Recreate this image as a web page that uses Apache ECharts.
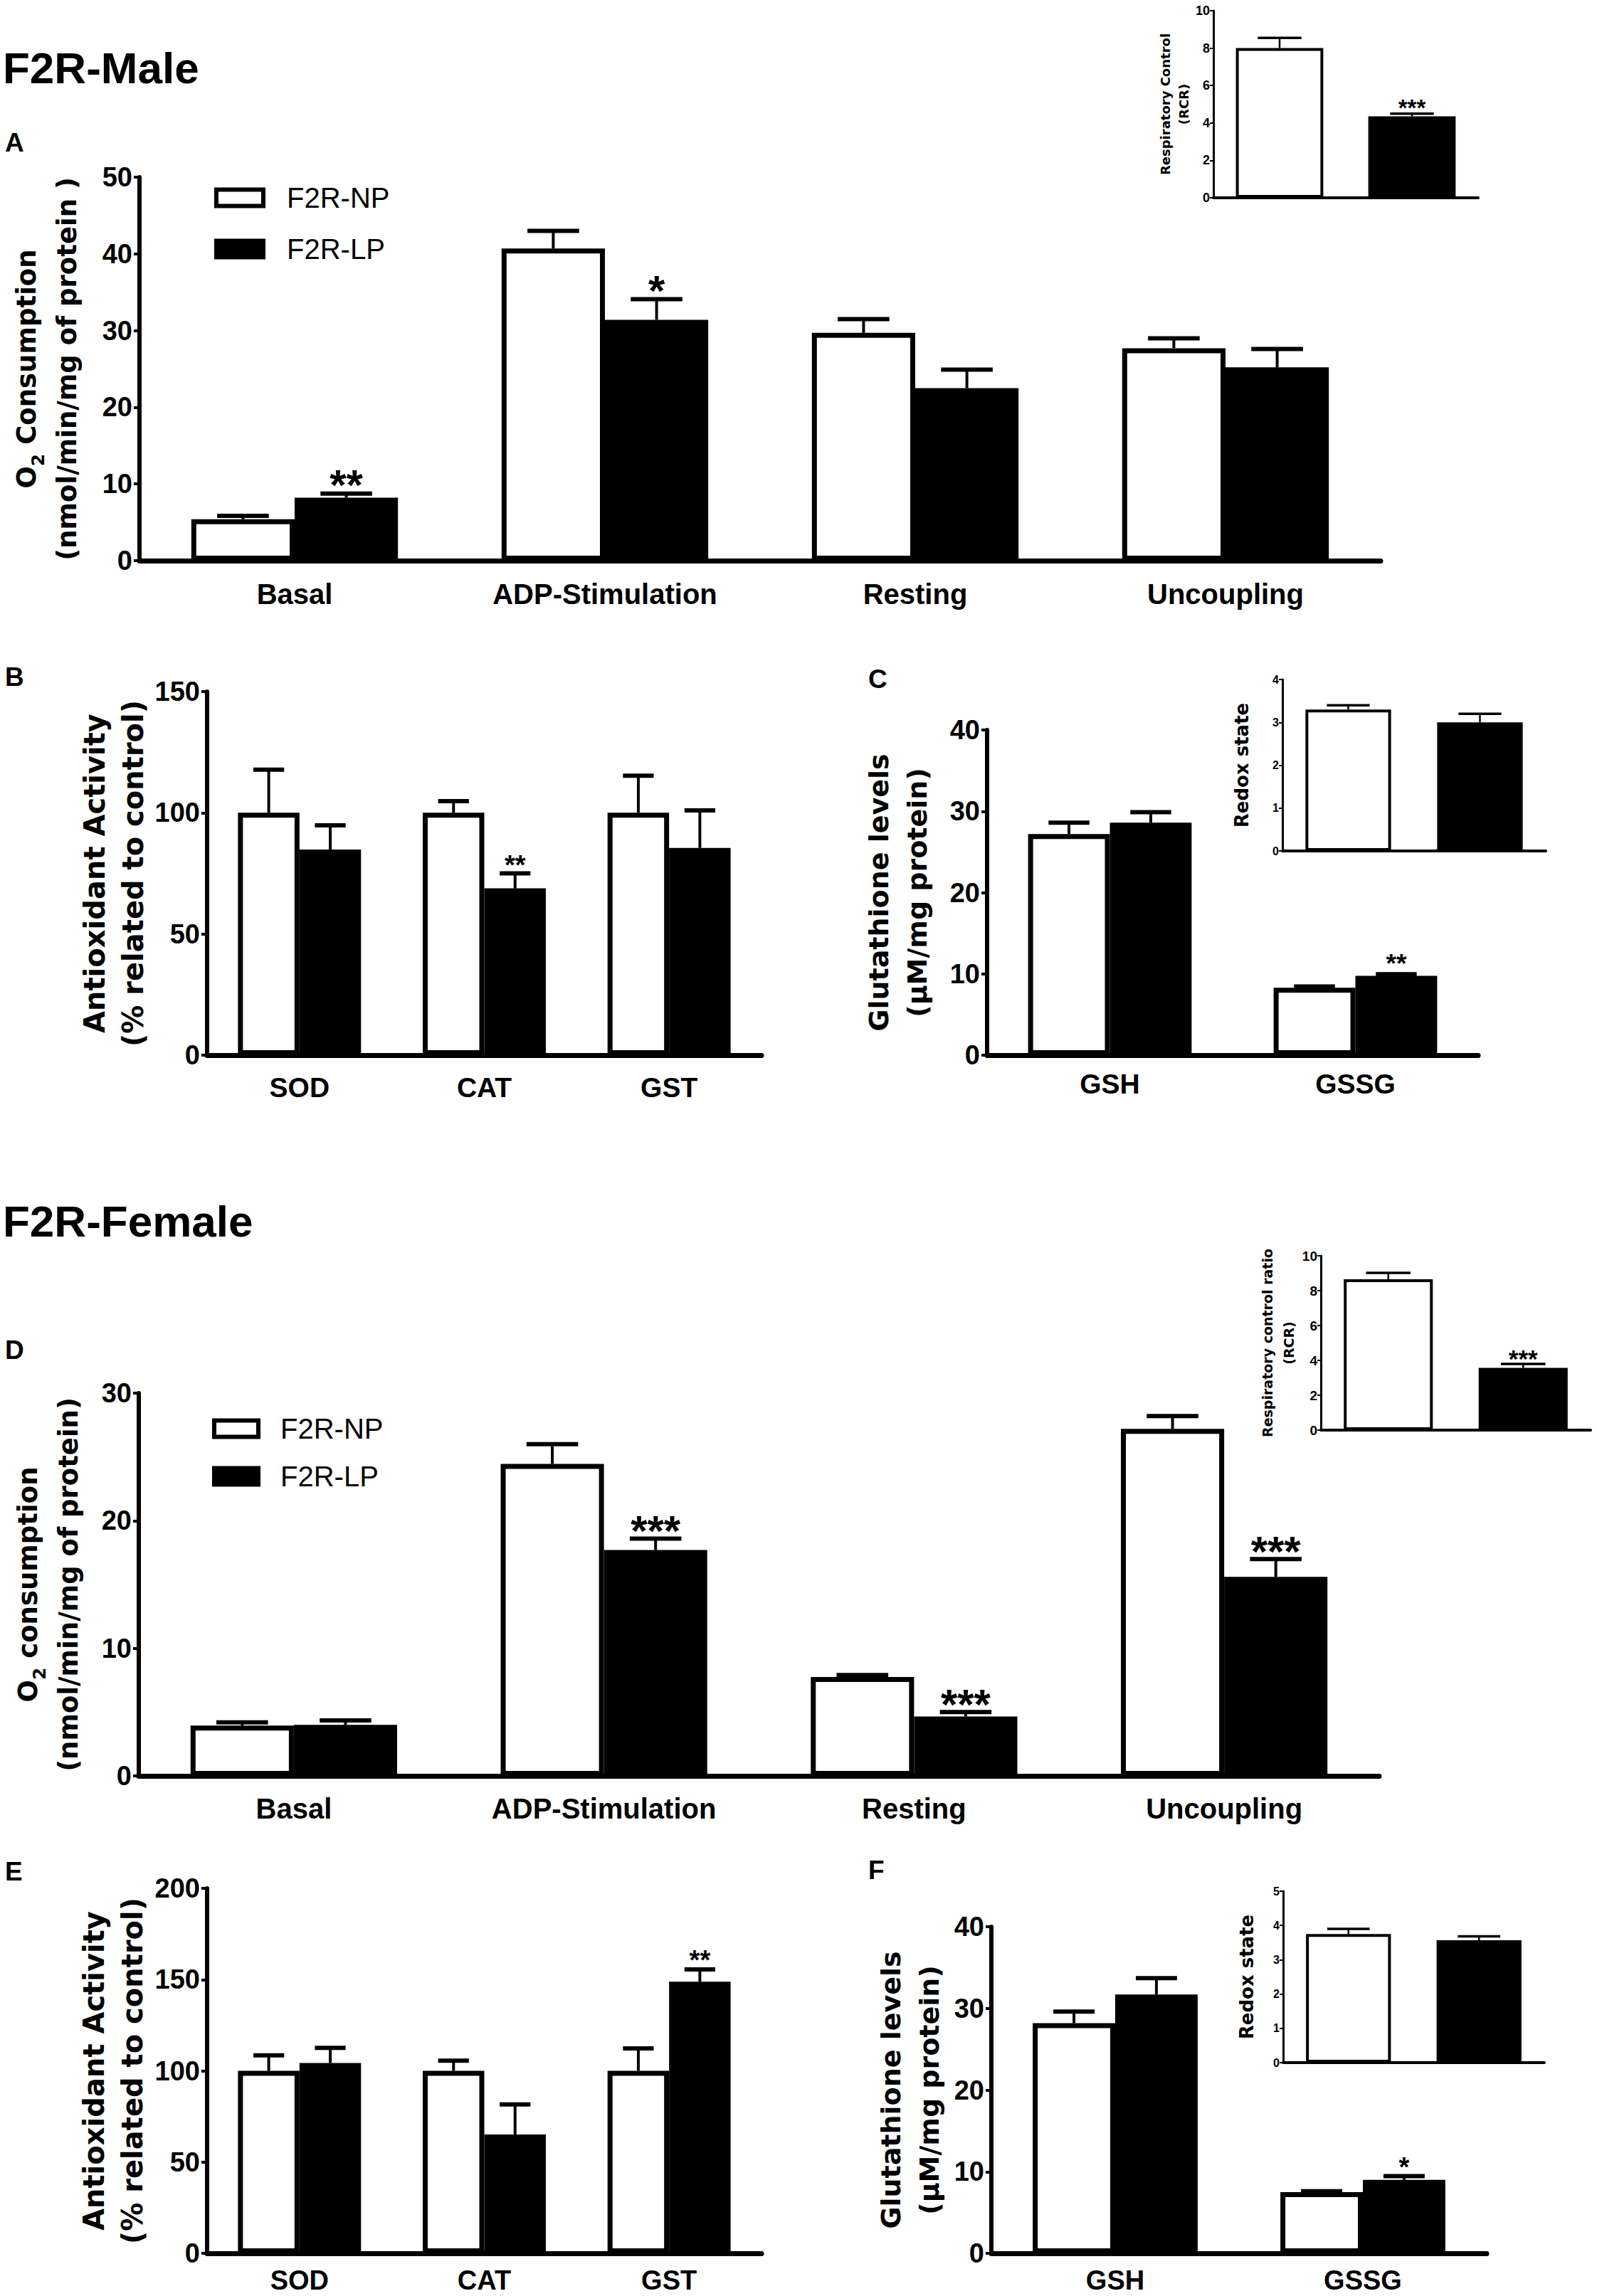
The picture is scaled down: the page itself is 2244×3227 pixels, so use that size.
<!DOCTYPE html>
<html>
<head>
<meta charset="utf-8">
<script src="https://cdn.jsdelivr.net/npm/echarts@6/dist/echarts.min.js"></script>
<style>
html, body { margin: 0; padding: 0; background: #fff; }
#chart { width: 2244px; height: 3227px; }
</style>
</head>
<body>
<div id="chart"></div>
<script>
// categories
const o2Categories = ['Basal', 'ADP-Stimulation', 'Resting', 'Uncoupling'];
const enzymeCategories = ['SOD', 'CAT', 'GST'];
const glutathioneCategories = ['GSH', 'GSSG'];
const insetCategories = ['F2R-NP', 'F2R-LP'];

// F2R-Male (mean, mean + error)
const maleO2NP = [5.4, 40.7, 29.7, 27.7];
const maleO2NPErr = [5.85, 43.0, 31.5, 29.0];
const maleO2LP = [8.2, 31.4, 22.5, 25.2];
const maleO2LPErr = [8.75, 34.1, 24.9, 27.6];
const maleO2Stars = ['**', '*', '', ''];
const maleRcr = [8.0, 4.35];
const maleRcrErr = [8.55, 4.5];
const maleRcrStars = ['', '***'];
const maleEnzNP = [100, 100, 100];
const maleEnzNPErr = [117.8, 104.8, 115.3];
const maleEnzLP = [84.8, 68.8, 85.5];
const maleEnzLPErr = [94.8, 75.0, 101.0];
const maleEnzStars = ['', '**', ''];
const maleGluNP = [27.2, 8.3];
const maleGluNPErr = [28.6, 8.45];
const maleGluLP = [28.6, 9.75];
const maleGluLPErr = [29.9, 9.95];
const maleGluStars = ['', '**'];
const maleRedox = [3.3, 3.0];
const maleRedoxErr = [3.4, 3.2];

// F2R-Female
const femaleO2NP = [3.95, 24.45, 7.75, 27.2];
const femaleO2NPErr = [4.2, 26.0, 7.9, 28.2];
const femaleO2LP = [4.0, 17.7, 4.65, 15.6];
const femaleO2LPErr = [4.35, 18.6, 5.0, 17.0];
const femaleO2Stars = ['', '***', '***', '***'];
const femaleRcr = [8.65, 3.57];
const femaleRcrErr = [9.02, 3.8];
const femaleRcrStars = ['', '***'];
const femaleEnzNP = [100, 100, 100];
const femaleEnzNPErr = [108.5, 105.6, 112.3];
const femaleEnzLP = [104.3, 65.1, 148.8];
const femaleEnzLPErr = [112.6, 81.6, 155.6];
const femaleEnzStars = ['', '', '**'];
const femaleGluNP = [28.2, 7.5];
const femaleGluNPErr = [29.6, 7.6];
const femaleGluLP = [31.7, 9.0];
const femaleGluLPErr = [33.7, 9.45];
const femaleGluStars = ['', '*'];
const femaleRedox = [3.75, 3.57];
const femaleRedoxErr = [3.9, 3.68];

const NUM_FONT = '"Liberation Sans", Arial, sans-serif';
const TITLE_FONT = '"DejaVu Sans", Verdana, sans-serif';
const BAR_FRAC = 0.333;

const grids = [], xAxes = [], yAxes = [], series = [];

function errorSeries(idx, values, errs, offsetFrac, barFrac, stars, st) {
    return {
        type: 'custom',
        xAxisIndex: idx,
        yAxisIndex: idx,
        silent: true,
        z: 5,
        data: values.map((v, i) => [i, v, errs[i]]),
        encode: { x: 0, y: 2 },
        renderItem: (params, api) => {
            const i = api.value(0);
            const band = api.size([1, 0])[0];
            const base = api.coord([i, api.value(1)]);
            const top = api.coord([i, api.value(2)]);
            const cx = base[0] + offsetFrac * band;
            const half = band * barFrac / 4;
            const children = [
                { type: 'line', shape: { x1: cx, y1: base[1], x2: cx, y2: top[1] },
                  style: { stroke: '#000', lineWidth: st.stem } },
                { type: 'line', shape: { x1: cx - half, y1: top[1], x2: cx + half, y2: top[1] },
                  style: { stroke: '#000', lineWidth: st.cap } }
            ];
            const s = stars ? stars[params.dataIndex] : '';
            if (s) {
                children.push({
                    type: 'text',
                    style: {
                        text: s, x: cx, y: top[1] - st.starGap,
                        align: 'center', verticalAlign: 'middle',
                        font: 'bold ' + st.starSize + 'px ' + NUM_FONT, fill: '#000'
                    }
                });
            }
            return { type: 'group', children: children };
        }
    };
}

function addAxes(p) {
    const idx = grids.length;
    grids.push({ left: p.left, top: p.top, width: p.width, height: p.height });
    xAxes.push({
        type: 'category', gridIndex: idx, data: p.categories,
        axisLine: { lineStyle: { color: '#000', width: p.xAxisWidth } },
        axisTick: { show: false },
        axisLabel: {
            show: !!p.xFont, color: '#000', fontFamily: NUM_FONT, fontWeight: 'bold',
            fontSize: p.xFont || 12, lineHeight: p.xFont || 12, margin: p.xMargin || 8
        }
    });
    yAxes.push({
        type: 'value', gridIndex: idx, min: 0, max: p.max, interval: p.interval,
        name: p.name, nameLocation: 'middle', nameRotate: 90, nameGap: p.nameGap,
        nameTextStyle: Object.assign({
            color: '#000', fontFamily: TITLE_FONT, fontWeight: 'bold',
            fontSize: p.nameFont, lineHeight: p.nameLine, align: 'center'
        }, p.nameRich ? { rich: p.nameRich } : {}),
        axisLine: { show: true, lineStyle: { color: '#000', width: p.yAxisWidth } },
        axisTick: { show: true, length: p.tickLen, lineStyle: { color: '#000', width: p.tickWidth } },
        axisLabel: {
            color: '#000', fontFamily: NUM_FONT, fontWeight: 'bold',
            fontSize: p.yFont, margin: p.yMargin
        },
        splitLine: { show: false }
    });
    return idx;
}

function addPairPanel(p) {
    const idx = addAxes(p);
    const bw = (BAR_FRAC * 100) + '%';
    series.push({
        type: 'bar', name: 'F2R-NP', xAxisIndex: idx, yAxisIndex: idx, data: p.np,
        barWidth: bw, barGap: '0%', silent: true, z: 2,
        itemStyle: { color: '#fff', borderColor: '#000', borderWidth: p.border }
    });
    series.push({
        type: 'bar', name: 'F2R-LP', xAxisIndex: idx, yAxisIndex: idx, data: p.lp,
        barWidth: bw, barGap: '0%', silent: true, z: 2,
        itemStyle: { color: '#000', borderColor: '#000', borderWidth: p.border }
    });
    series.push(errorSeries(idx, p.np, p.npErr, -BAR_FRAC / 2, BAR_FRAC, null, p.err));
    series.push(errorSeries(idx, p.lp, p.lpErr, BAR_FRAC / 2, BAR_FRAC, p.stars, p.err));
}

function addInsetPanel(p) {
    const idx = addAxes(p);
    series.push({
        type: 'bar', xAxisIndex: idx, yAxisIndex: idx, barWidth: (p.barFrac * 100) + '%',
        silent: true, z: 2,
        data: p.values.map((v, i) => ({
            value: v,
            itemStyle: { color: i === 0 ? '#fff' : '#000', borderColor: '#000', borderWidth: p.border }
        }))
    });
    series.push(errorSeries(idx, p.values, p.errs, 0, p.barFrac, p.stars, p.err));
}

const mainStyle = { xAxisWidth: 7, yAxisWidth: 6, tickLen: 8, tickWidth: 4, border: 7, yMargin: 10 };
const insetStyle = { xAxisWidth: 4, yAxisWidth: 3, tickLen: 5, tickWidth: 2, border: 4, yMargin: 5 };
const mainErr = { stem: 4, cap: 6 };
const insetErr = { stem: 2.5, cap: 3.5 };
const o2Rich = {
    b: { fontFamily: TITLE_FONT, fontWeight: 'bold', fontSize: 37, lineHeight: 57, color: '#000' },
    s: { fontFamily: TITLE_FONT, fontWeight: 'bold', fontSize: 25, lineHeight: 57, color: '#000',
         verticalAlign: 'bottom' }
};

// A
addPairPanel(Object.assign({}, mainStyle, {
    left: 196, top: 249, width: 1744, height: 539, max: 50, interval: 10,
    categories: o2Categories, xFont: 40, xMargin: 27, yFont: 38,
    name: '{b|O}{s|2}{b| Consumption}\n{b|(nmol/min/mg of protein )}', nameRich: o2Rich,
    nameFont: 37, nameLine: 57, nameGap: 73,
    np: maleO2NP, npErr: maleO2NPErr, lp: maleO2LP, lpErr: maleO2LPErr, stars: maleO2Stars,
    err: Object.assign({ starSize: 60, starGap: 12 }, mainErr)
}));
// A inset
addInsetPanel(Object.assign({}, insetStyle, {
    left: 1705, top: 15, width: 372, height: 263, max: 10, interval: 2,
    categories: insetCategories, yFont: 18,
    name: 'Respiratory Control\n(RCR)', nameFont: 18, nameLine: 26, nameGap: 26,
    values: maleRcr, errs: maleRcrErr, stars: maleRcrStars, barFrac: 0.66,
    err: Object.assign({ starSize: 33, starGap: 8 }, insetErr)
}));
// B
addPairPanel(Object.assign({}, mainStyle, {
    left: 291, top: 972, width: 779, height: 511, max: 150, interval: 50,
    categories: enzymeCategories, xFont: 39, xMargin: 26, yFont: 38,
    name: 'Antioxidant Activity\n(% related to control)', nameFont: 40, nameLine: 54, nameGap: 74,
    np: maleEnzNP, npErr: maleEnzNPErr, lp: maleEnzLP, lpErr: maleEnzLPErr, stars: maleEnzStars,
    err: Object.assign({ starSize: 38, starGap: 12 }, mainErr)
}));
// C
addPairPanel(Object.assign({}, mainStyle, {
    left: 1387, top: 1026, width: 690, height: 457, max: 40, interval: 10,
    categories: glutathioneCategories, xFont: 39, xMargin: 21, yFont: 38,
    name: 'Glutathione levels\n(\u00b5M/mg protein)', nameFont: 38, nameLine: 54, nameGap: 71,
    np: maleGluNP, npErr: maleGluNPErr, lp: maleGluLP, lpErr: maleGluLPErr, stars: maleGluStars,
    err: Object.assign({ starSize: 37, starGap: 15 }, mainErr)
}));
// C inset
addInsetPanel(Object.assign({}, insetStyle, {
    left: 1802, top: 955, width: 370, height: 241, max: 4, interval: 1,
    categories: insetCategories, yFont: 16,
    name: 'Redox state', nameFont: 26, nameLine: 28, nameGap: 43,
    values: maleRedox, errs: maleRedoxErr, stars: null, barFrac: 0.65,
    err: Object.assign({ starSize: 30, starGap: 7 }, insetErr)
}));
// D
addPairPanel(Object.assign({}, mainStyle, {
    left: 195, top: 1958, width: 1743, height: 538, max: 30, interval: 10,
    categories: o2Categories, xFont: 40, xMargin: 26, yFont: 38,
    name: '{b|O}{s|2}{b| consumption}\n{b|(nmol/min/mg of protein)}', nameRich: o2Rich,
    nameFont: 37, nameLine: 57, nameGap: 70,
    np: femaleO2NP, npErr: femaleO2NPErr, lp: femaleO2LP, lpErr: femaleO2LPErr, stars: femaleO2Stars,
    err: Object.assign({ starSize: 60, starGap: 11 }, mainErr)
}));
// D inset
addInsetPanel(Object.assign({}, insetStyle, {
    left: 1856, top: 1765, width: 379, height: 245, max: 10, interval: 2,
    categories: insetCategories, yFont: 19,
    name: 'Respiratory control ratio\n(RCR)', nameFont: 19, nameLine: 30, nameGap: 14,
    values: femaleRcr, errs: femaleRcrErr, stars: femaleRcrStars, barFrac: 0.66,
    err: Object.assign({ starSize: 35, starGap: 7 }, insetErr)
}));
// E
addPairPanel(Object.assign({}, mainStyle, {
    left: 291, top: 2654, width: 779, height: 513, max: 200, interval: 50,
    categories: enzymeCategories, xFont: 38, xMargin: 19, yFont: 38,
    name: 'Antioxidant Activity\n(% related to control)', nameFont: 40, nameLine: 54, nameGap: 78,
    np: femaleEnzNP, npErr: femaleEnzNPErr, lp: femaleEnzLP, lpErr: femaleEnzLPErr, stars: femaleEnzStars,
    err: Object.assign({ starSize: 38, starGap: 13 }, mainErr)
}));
// F
addPairPanel(Object.assign({}, mainStyle, {
    left: 1393, top: 2708, width: 696, height: 459, max: 40, interval: 10,
    categories: glutathioneCategories, xFont: 38, xMargin: 19, yFont: 38,
    name: 'Glutathione levels\n(\u00b5M/mg protein)', nameFont: 38, nameLine: 54, nameGap: 60,
    np: femaleGluNP, npErr: femaleGluNPErr, lp: femaleGluLP, lpErr: femaleGluLPErr, stars: femaleGluStars,
    err: Object.assign({ starSize: 38, starGap: 13 }, mainErr)
}));
// F inset
addInsetPanel(Object.assign({}, insetStyle, {
    left: 1803, top: 2658, width: 367, height: 241, max: 5, interval: 1,
    categories: insetCategories, yFont: 16,
    name: 'Redox state', nameFont: 26, nameLine: 28, nameGap: 37,
    values: femaleRedox, errs: femaleRedoxErr, stars: null, barFrac: 0.65,
    err: Object.assign({ starSize: 30, starGap: 7 }, insetErr)
}));

function legendAt(left, top, itemWidth, itemHeight, gap, pad) {
    return {
        orient: 'vertical', left: left, top: top, icon: 'rect', selectedMode: false,
        itemWidth: itemWidth, itemHeight: itemHeight, itemGap: gap,
        data: [
            { name: 'F2R-NP', itemStyle: { color: '#fff', borderColor: '#000', borderWidth: 6 } },
            { name: 'F2R-LP', itemStyle: { color: '#000', borderColor: '#000', borderWidth: 6 } }
        ],
        textStyle: { fontFamily: NUM_FONT, fontSize: 40, lineHeight: 40, color: '#000', padding: [0, 0, 0, pad] }
    };
}

function label(text, x, y, size) {
    return {
        type: 'text', x: x, y: y, silent: true,
        style: { text: text, font: 'bold ' + size + 'px ' + NUM_FONT, fill: '#000', verticalAlign: 'middle' }
    };
}

const chart = echarts.init(document.getElementById('chart'), null, { renderer: 'svg' });
chart.setOption({
    animation: false,
    backgroundColor: '#fff',
    grid: grids,
    xAxis: xAxes,
    yAxis: yAxes,
    series: series,
    legend: [
        legendAt(296, 253, 66, 23, 32, 28),
        legendAt(293, 1983, 62, 23, 27, 26)
    ],
    graphic: [
        label('F2R-Male', 4, 95, 62),
        label('F2R-Female', 4, 1716, 62),
        label('A', 7, 200, 37),
        label('B', 7, 951, 37),
        label('C', 1220, 954, 37),
        label('D', 7, 1897, 37),
        label('E', 7, 2630, 37),
        label('F', 1220, 2628, 37)
    ]
});
</script>
</body>
</html>
